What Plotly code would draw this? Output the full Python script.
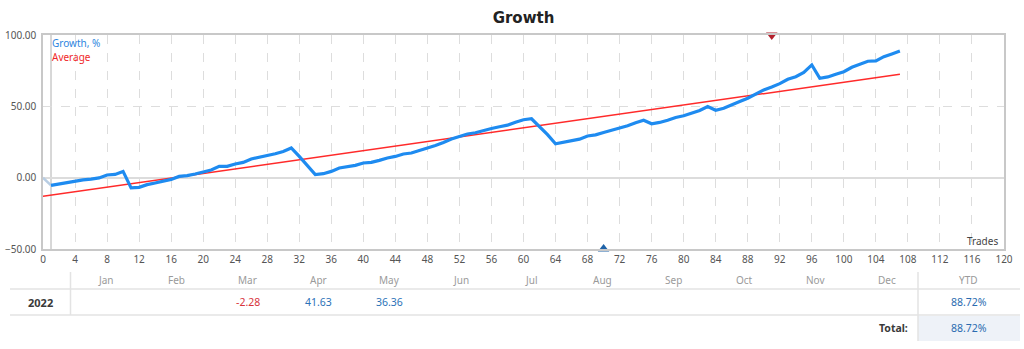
import plotly.graph_objects as go

# ---------------- data ----------------
trades = list(range(1, 108))
growth = [
    -5.4, -4.3, -3.2, -2.1, -1.5, -1.0, -0.2, 1.9, 2.3, 4.4,
    -7.2, -6.8, -4.9, -3.7, -2.6, -1.2, 0.9, 1.4, 2.6, 4.0,
    5.4, 7.9, 7.9, 9.6, 10.7, 13.1, 14.2, 15.4, 16.8, 18.4,
    20.8, 14.9, 8.4, 2.1, 2.8, 4.4, 6.8, 7.5, 8.6, 10.3,
    10.7, 12.1, 13.8, 14.9, 16.6, 17.3, 18.9, 20.8, 22.6, 24.7,
    27.1, 28.9, 30.6, 31.5, 33.1, 34.5, 35.7, 36.8, 38.9, 40.6,
    41.3, 35.9, 30.1, 23.8, 24.7, 25.9, 27.0, 29.2, 30.0, 31.7,
    33.3, 34.5, 36.4, 38.5, 40.3, 37.8, 38.7, 40.3, 42.2, 43.4,
    45.0, 47.1, 49.9, 47.3, 48.7, 50.8, 53.4, 55.7, 58.9, 61.5,
    63.5, 65.9, 69.0, 70.8, 73.7, 79.0, 69.7, 70.6, 72.5, 74.3,
    77.4, 79.5, 81.6, 81.8, 84.8, 86.7, 88.72,
]
start_x = [0, 1]
start_y = [0.0, -5.4]
avg_x = [0, 107]
avg_y = [-13.1, 72.5]
max_marker = (91, 100)
min_marker = (70, -50)

months = ["Jan", "Feb", "Mar", "Apr", "May", "Jun",
          "Jul", "Aug", "Sep", "Oct", "Nov", "Dec"]
year = "2022"
month_values = [None, None, -2.28, 41.63, 36.36, None,
                None, None, None, None, None, None]
ytd = 88.72
total = 88.72

# ---------------- figure ----------------
W, H = 1024, 349
L, R, T, B = 43, 1004, 35, 249
FONT = "Noto Sans"


def px(x):
    return (x - L) / (R - L)


def py(y):
    return (B - y) / (B - T)


fig = go.Figure()

fig.add_trace(go.Scatter(x=start_x, y=start_y, mode="lines",
                         line=dict(color="#b8cde3", width=2.5),
                         hoverinfo="skip"))
fig.add_trace(go.Scatter(x=avg_x, y=avg_y, mode="lines",
                         line=dict(color="#ff2a2a", width=1.5),
                         name="Average"))
fig.add_trace(go.Scatter(x=trades, y=growth, mode="lines",
                         line=dict(color="#1e8bf0", width=3.2),
                         name="Growth, %"))
fig.add_trace(go.Scatter(x=[max_marker[0]], y=[max_marker[1]], mode="markers",
                         marker=dict(symbol="triangle-down", size=10, color="#b3202c"),
                         cliponaxis=False))
fig.add_trace(go.Scatter(x=[min_marker[0]], y=[min_marker[1]], mode="markers",
                         marker=dict(symbol="triangle-up", size=10, color="#1f63a8"),
                         cliponaxis=False))

shapes = []
# vertical line at first trade
shapes.append(dict(type="line", xref="x", yref="y", x0=start_x[1], x1=start_x[1],
                   y0=-50, y1=100, line=dict(color="#b0b0b0", width=1), layer="below"))

# table lines
line_col = "#e3e3e3"
shapes.append(dict(type="line", xref="paper", yref="paper", x0=px(10), x1=px(1020),
                   y0=py(289), y1=py(289), line=dict(color=line_col, width=1.5)))
shapes.append(dict(type="line", xref="paper", yref="paper", x0=px(10), x1=px(1020),
                   y0=py(315), y1=py(315), line=dict(color=line_col, width=1.5)))
shapes.append(dict(type="line", xref="paper", yref="paper", x0=px(70.5), x1=px(70.5),
                   y0=py(272), y1=py(315), line=dict(color=line_col, width=1.5)))
shapes.append(dict(type="rect", xref="paper", yref="paper", x0=px(918), x1=px(1020),
                   y0=py(341), y1=py(316), fillcolor="#eef2f8", line=dict(width=0),
                   layer="below"))
shapes.append(dict(type="line", xref="paper", yref="paper", x0=px(918), x1=px(918),
                   y0=py(272), y1=py(341), line=dict(color=line_col, width=1.5)))

ann = []
# legend texts
ann.append(dict(xref="paper", yref="paper", x=px(50), y=py(43), text="Growth, %",
                showarrow=False, xanchor="left", yanchor="middle",
                font=dict(family=FONT, size=10, color="#2e86e0")))
ann.append(dict(xref="paper", yref="paper", x=px(50), y=py(57), text="Average",
                showarrow=False, xanchor="left", yanchor="middle",
                font=dict(family=FONT, size=10, color="#f02828")))
ann.append(dict(xref="paper", yref="paper", x=px(1000), y=py(241), text="Trades",
                showarrow=False, xanchor="right", yanchor="middle",
                font=dict(family=FONT, size=10, color="#444")))

# table
hdr_y, row_y, tot_y = py(280), py(302), py(328)
for i, m in enumerate(months):
    cx = 105.5 + 71 * i
    ann.append(dict(xref="paper", yref="paper", x=px(cx), y=hdr_y, text=m,
                    showarrow=False, xanchor="center", yanchor="middle",
                    font=dict(family=FONT, size=10, color="#9a9a9a")))
    v = month_values[i]
    if v is not None:
        col = "#d8343c" if v < 0 else "#2b72b8"
        ann.append(dict(xref="paper", yref="paper", x=px(cx), y=row_y, text=f"{v:.2f}",
                        showarrow=False, xanchor="center", yanchor="middle",
                        font=dict(family=FONT, size=10.5, color=col)))
ann.append(dict(xref="paper", yref="paper", x=px(968), y=hdr_y, text="YTD",
                showarrow=False, xanchor="center", yanchor="middle",
                font=dict(family=FONT, size=10, color="#9a9a9a")))
ann.append(dict(xref="paper", yref="paper", x=px(40), y=row_y, text=f"<b>{year}</b>",
                showarrow=False, xanchor="center", yanchor="middle",
                font=dict(family=FONT, size=11, color="#3a3a3a")))
ann.append(dict(xref="paper", yref="paper", x=px(969), y=row_y, text=f"{ytd:.2f}%",
                showarrow=False, xanchor="center", yanchor="middle",
                font=dict(family=FONT, size=10.5, color="#2b6cb0")))
ann.append(dict(xref="paper", yref="paper", x=px(910), y=tot_y, text="<b>Total:</b>",
                showarrow=False, xanchor="right", yanchor="middle",
                font=dict(family=FONT, size=10.5, color="#3a3a3a")))
ann.append(dict(xref="paper", yref="paper", x=px(969), y=tot_y, text=f"{total:.2f}%",
                showarrow=False, xanchor="center", yanchor="middle",
                font=dict(family=FONT, size=10.5, color="#2b6cb0")))

fig.update_layout(
    width=W, height=H,
    margin=dict(l=L, r=W - R, t=T, b=H - B),
    paper_bgcolor="white", plot_bgcolor="white",
    showlegend=False,
    title=dict(text="<b>Growth</b>", x=0.5, xref="paper", y=1 - 18 / H,
               yanchor="middle", xanchor="center",
               font=dict(family="DejaVu Sans", size=15, color="#222")),
    xaxis=dict(range=[0, 120], dtick=4, tick0=0, showgrid=True, gridcolor="#dddddd",
               griddash="dash", gridwidth=1, zeroline=False, automargin=False,
               showline=True, linecolor="#c8c8c8", linewidth=1.5, mirror=True,
               ticks="", tickfont=dict(family=FONT, size=10, color="#555"),
               fixedrange=True),
    yaxis=dict(range=[-50, 100], dtick=50, tick0=0, tickformat=".2f",
               showgrid=True, gridcolor="#dddddd", griddash="dash", gridwidth=1,
               zeroline=True, zerolinecolor="#dcdcdc", zerolinewidth=2,
               showline=True, linecolor="#c8c8c8", linewidth=1.5, mirror=True,
               ticks="", ticklabelstandoff=3, automargin=False,
               tickfont=dict(family=FONT, size=10, color="#555"),
               fixedrange=True),
    shapes=shapes,
    annotations=ann,
)

fig.write_html("out.html")
